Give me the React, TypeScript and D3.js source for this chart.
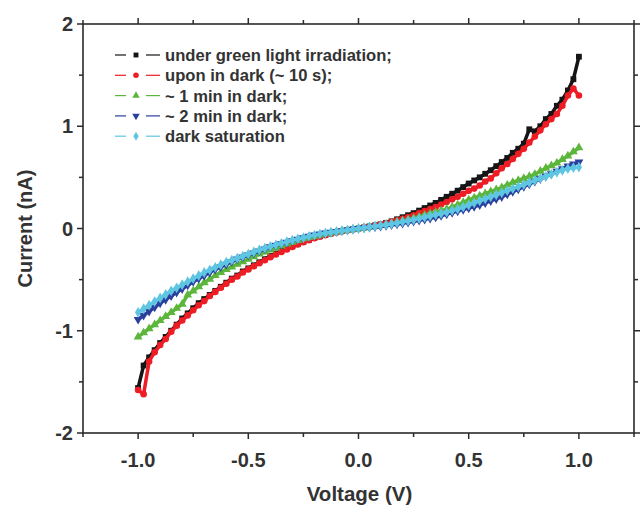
import React from "react";
import * as d3 from "d3";

const voltage = [
  -1.0, -0.975, -0.95, -0.925, -0.9, -0.875, -0.85, -0.825, -0.8, -0.775,
  -0.75, -0.725, -0.7, -0.675, -0.65, -0.625, -0.6, -0.575, -0.55, -0.525,
  -0.5, -0.475, -0.45, -0.425, -0.4, -0.375, -0.35, -0.325, -0.3, -0.275,
  -0.25, -0.225, -0.2, -0.175, -0.15, -0.125, -0.1, -0.075, -0.05, -0.025,
  0.0, 0.025, 0.05, 0.075, 0.1, 0.125, 0.15, 0.175, 0.2, 0.225,
  0.25, 0.275, 0.3, 0.325, 0.35, 0.375, 0.4, 0.425, 0.45, 0.475,
  0.5, 0.525, 0.55, 0.575, 0.6, 0.625, 0.65, 0.675, 0.7, 0.725,
  0.75, 0.775, 0.8, 0.825, 0.85, 0.875, 0.9, 0.925, 0.95, 0.975, 1.0,
];

const greenLight = [
  -1.56, -1.34, -1.26, -1.19, -1.12, -1.06, -1.0, -0.94, -0.88, -0.83,
  -0.78, -0.73, -0.69, -0.65, -0.61, -0.57, -0.53, -0.49, -0.46, -0.42,
  -0.39, -0.36, -0.33, -0.3, -0.27, -0.245, -0.22, -0.195, -0.17, -0.15,
  -0.13, -0.11, -0.09, -0.075, -0.06, -0.047, -0.035, -0.025, -0.015, -0.007,
  0.0, 0.01, 0.02, 0.03, 0.04, 0.055, 0.07, 0.09, 0.11, 0.13,
  0.15, 0.175, 0.2, 0.225, 0.25, 0.28, 0.31, 0.34, 0.37, 0.405,
  0.44, 0.47, 0.5, 0.535, 0.57, 0.61, 0.65, 0.69, 0.74, 0.78,
  0.83, 0.97, 0.95, 1.0, 1.07, 1.12, 1.2, 1.26, 1.35, 1.46, 1.68,
];

const dark10s = [
  -1.58, -1.62, -1.3, -1.21, -1.14, -1.08, -1.01, -0.95, -0.9, -0.85,
  -0.8, -0.75, -0.71, -0.66, -0.62, -0.58, -0.54, -0.5, -0.47, -0.43,
  -0.4, -0.37, -0.34, -0.31, -0.28, -0.255, -0.23, -0.205, -0.18, -0.157,
  -0.135, -0.115, -0.095, -0.08, -0.065, -0.052, -0.04, -0.03, -0.02, -0.01,
  0.0, 0.01, 0.02, 0.03, 0.04, 0.052, 0.065, 0.08, 0.095, 0.112,
  0.13, 0.15, 0.17, 0.19, 0.21, 0.235, 0.26, 0.285, 0.31, 0.34,
  0.37, 0.39, 0.42, 0.46, 0.49, 0.54, 0.59, 0.63, 0.68, 0.73,
  0.78, 0.84, 0.9, 0.96, 1.02, 1.07, 1.12, 1.2, 1.3, 1.37, 1.3,
];

const dark1min = [
  -1.06, -1.02, -0.98, -0.94, -0.9, -0.86, -0.82, -0.78, -0.74, -0.65,
  -0.61, -0.57, -0.53, -0.495, -0.46, -0.43, -0.4, -0.375, -0.35, -0.325,
  -0.3, -0.275, -0.25, -0.23, -0.21, -0.19, -0.17, -0.152, -0.135, -0.117,
  -0.1, -0.087, -0.075, -0.062, -0.05, -0.04, -0.03, -0.022, -0.015, -0.007,
  0.0, 0.007, 0.015, 0.022, 0.03, 0.04, 0.05, 0.062, 0.075, 0.087,
  0.1, 0.115, 0.13, 0.145, 0.16, 0.175, 0.19, 0.21, 0.23, 0.255,
  0.28, 0.3, 0.32, 0.34, 0.36, 0.38, 0.4, 0.425, 0.45, 0.47,
  0.49, 0.51, 0.53, 0.56, 0.59, 0.615, 0.64, 0.675, 0.71, 0.75, 0.79,
];

const dark2min = [
  -0.89, -0.85, -0.81, -0.77, -0.73, -0.695, -0.66, -0.625, -0.59, -0.555,
  -0.52, -0.49, -0.46, -0.43, -0.4, -0.375, -0.35, -0.325, -0.3, -0.28,
  -0.26, -0.24, -0.22, -0.2, -0.18, -0.165, -0.15, -0.135, -0.12, -0.105,
  -0.09, -0.077, -0.065, -0.055, -0.045, -0.037, -0.03, -0.022, -0.015, -0.007,
  0.0, 0.005, 0.01, 0.015, 0.02, 0.027, 0.035, 0.042, 0.05, 0.06,
  0.07, 0.08, 0.09, 0.1, 0.11, 0.125, 0.14, 0.155, 0.17, 0.185,
  0.2, 0.215, 0.23, 0.25, 0.27, 0.29, 0.31, 0.335, 0.36, 0.385,
  0.41, 0.435, 0.46, 0.485, 0.51, 0.535, 0.56, 0.585, 0.61, 0.63, 0.65,
];

const darkSat = [
  -0.82, -0.785, -0.75, -0.715, -0.68, -0.645, -0.61, -0.58, -0.55, -0.52,
  -0.49, -0.46, -0.43, -0.405, -0.38, -0.355, -0.33, -0.31, -0.29, -0.27,
  -0.25, -0.23, -0.21, -0.192, -0.175, -0.16, -0.145, -0.13, -0.115, -0.102,
  -0.09, -0.077, -0.065, -0.055, -0.045, -0.037, -0.03, -0.022, -0.015, -0.007,
  0.0, 0.007, 0.015, 0.022, 0.03, 0.037, 0.045, 0.055, 0.065, 0.075,
  0.085, 0.097, 0.11, 0.122, 0.135, 0.147, 0.16, 0.175, 0.19, 0.21,
  0.23, 0.25, 0.27, 0.29, 0.31, 0.33, 0.35, 0.37, 0.39, 0.41,
  0.43, 0.45, 0.47, 0.49, 0.51, 0.53, 0.55, 0.57, 0.585, 0.595, 0.6,
];

const seriesNames = [
  "under green light irradiation;",
  "upon in dark (~ 10 s);",
  "~ 1 min in dark;",
  "~ 2 min in dark;",
  "dark saturation",
];
const seriesValues = [greenLight, dark10s, dark1min, dark2min, darkSat];
const seriesColors = ["#151515", "#ee1c24", "#5cb63c", "#2b3f9c", "#5ec6e2"];
const seriesSymbols = [
  d3.symbolSquare,
  d3.symbolCircle,
  d3.symbolTriangle,
  d3.symbolTriangle,
  d3.symbolDiamond,
];
const symbolFlip = [false, false, false, true, false];

const xTicks = [-1.0, -0.5, 0.0, 0.5, 1.0];
const xMinor = [-1.25, -0.75, -0.25, 0.25, 0.75, 1.25];
const yTicks = [-2, -1, 0, 1, 2];
const yMinor = [-1.5, -0.5, 0.5, 1.5];

const W = 640;
const H = 507;
const L = 83;
const R = 634;
const T = 24;
const B = 433;

export default function App() {
  const x = d3.scaleLinear().domain([-1.25, 1.25]).range([L, R]);
  const y = d3.scaleLinear().domain([-2, 2]).range([B, T]);
  const line = d3
    .line<[number, number]>()
    .x((d) => x(d[0]))
    .y((d) => y(d[1]));
  const font = "'Liberation Sans', Arial, sans-serif";
  const axisColor = "#2a2a2a";
  const textColor = "#333";

  const sym = (i: number, size: number) =>
    d3.symbol().type(seriesSymbols[i]).size(size)() || "";

  return (
    <svg
      width={W}
      height={H}
      style={{ position: "absolute", left: 0, top: 0, background: "#fff" }}
      fontFamily={font}
    >
      {/* series */}
      {seriesValues.map((vals, i) => {
        const pts: [number, number][] = voltage.map((v, k) => [v, vals[k]]);
        return (
          <g key={i}>
            <path
              d={line(pts) || ""}
              fill="none"
              stroke={seriesColors[i]}
              strokeWidth={3.5}
              strokeLinejoin="round"
            />
            {pts.map((p, k) => (
              <path
                key={k}
                d={sym(i, 34)}
                transform={`translate(${x(p[0])},${y(p[1])})${symbolFlip[i] ? " scale(1,-1)" : ""}`}
                fill={seriesColors[i]}
              />
            ))}
          </g>
        );
      })}

      {/* frame */}
      <rect x={L} y={T} width={R - L} height={B - T} fill="none" stroke={axisColor} strokeWidth={1.6} />

      {/* x ticks bottom & top */}
      {xTicks.map((t) => (
        <g key={"xt" + t}>
          <line x1={x(t)} x2={x(t)} y1={B} y2={B + 6} stroke={axisColor} strokeWidth={1.5} />
          <line x1={x(t)} x2={x(t)} y1={T} y2={T - 6} stroke={axisColor} strokeWidth={1.5} />
          <text
            x={x(t)}
            y={B + 34}
            textAnchor="middle"
            fontSize={20}
            fontWeight="bold"
            fill={textColor}
          >
            {t.toFixed(1)}
          </text>
        </g>
      ))}
      {xMinor.map((t) => (
        <g key={"xm" + t}>
          <line x1={x(t)} x2={x(t)} y1={B} y2={B + 4} stroke={axisColor} strokeWidth={1.5} />
          <line x1={x(t)} x2={x(t)} y1={T} y2={T - 4} stroke={axisColor} strokeWidth={1.5} />
        </g>
      ))}

      {/* y ticks left & right */}
      {yTicks.map((t) => (
        <g key={"yt" + t}>
          <line x1={L} x2={L - 6} y1={y(t)} y2={y(t)} stroke={axisColor} strokeWidth={1.5} />
          <line x1={R} x2={R + 6} y1={y(t)} y2={y(t)} stroke={axisColor} strokeWidth={1.5} />
          <text
            x={L - 10}
            y={y(t) + 7}
            textAnchor="end"
            fontSize={20}
            fontWeight="bold"
            fill={textColor}
          >
            {String(t)}
          </text>
        </g>
      ))}
      {yMinor.map((t) => (
        <g key={"ym" + t}>
          <line x1={L} x2={L - 4} y1={y(t)} y2={y(t)} stroke={axisColor} strokeWidth={1.5} />
          <line x1={R} x2={R + 4} y1={y(t)} y2={y(t)} stroke={axisColor} strokeWidth={1.5} />
        </g>
      ))}

      {/* axis titles */}
      <text
        x={(L + R) / 2 + 1}
        y={501}
        textAnchor="middle"
        fontSize={20.5}
        fontWeight="bold"
        fill={textColor}
      >
        Voltage (V)
      </text>
      <text
        transform={`translate(32,${(T + B) / 2}) rotate(-90)`}
        textAnchor="middle"
        fontSize={20}
        fontWeight="bold"
        fill={textColor}
      >
        Current (nA)
      </text>

      {/* legend */}
      {seriesNames.map((name, i) => {
        const cy = 55 + i * 20.3;
        return (
          <g key={"lg" + i}>
            <line x1={115} x2={126} y1={cy} y2={cy} stroke={seriesColors[i]} strokeWidth={1.2} />
            <line x1={146} x2={160} y1={cy} y2={cy} stroke={seriesColors[i]} strokeWidth={1.2} />
            <path
              d={sym(i, 24)}
              transform={`translate(136,${cy})${symbolFlip[i] ? " scale(1,-1)" : ""}`}
              fill={seriesColors[i]}
            />
            <text x={165} y={cy + 6} fontSize={16.6} fontWeight="bold" fill={textColor}>
              {name}
            </text>
          </g>
        );
      })}
    </svg>
  );
}
